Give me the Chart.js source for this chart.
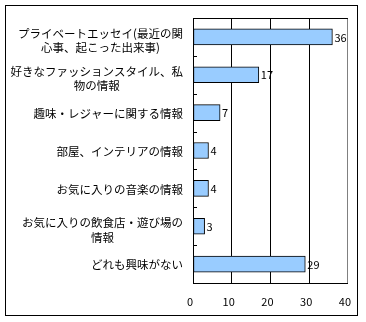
<!DOCTYPE html>
<html>
<head>
<meta charset="utf-8">
<script src="https://cdn.jsdelivr.net/npm/chart.js@4.4.1/dist/chart.umd.min.js"></script>
<style>
  html, body { margin: 0; padding: 0; background: #fff; }
  #wrap { width: 366px; height: 322px; }
</style>
</head>
<body>
<div id="wrap"><canvas id="chart" width="366" height="322"></canvas></div>
<script>
// categories (multi-line labels), values and x ticks
const categories = [
  ["プライベートエッセイ(最近の関", "心事、起こった出来事)"],
  ["好きなファッションスタイル、私", "物の情報"],
  ["趣味・レジャーに関する情報"],
  ["部屋、インテリアの情報"],
  ["お気に入りの音楽の情報"],
  ["お気に入りの飲食店・遊び場の", "情報"],
  ["どれも興味がない"]
];
const values = [36, 17, 7, 4, 4, 3, 29];
const xTicks = [0, 10, 20, 30, 40];

const JP_FONT = '"Noto Sans CJK JP", "Noto Sans", sans-serif';

// draws the frame, inner tick marks, category labels and value labels
const decorations = {
  id: "decorations",
  afterDraw(chart) {
    const ctx = chart.ctx;
    const area = chart.chartArea;
    const yScale = chart.scales.y;
    const meta = chart.getDatasetMeta(0);

    ctx.save();

    // outer frame
    ctx.strokeStyle = "#000";
    ctx.lineWidth = 1;
    ctx.strokeRect(5.5, 5.5, 352, 310);

    // plot top edge
    ctx.beginPath();
    ctx.moveTo(area.left, Math.round(area.top) + 0.5);
    ctx.lineTo(area.right, Math.round(area.top) + 0.5);
    ctx.stroke();

    // small inside ticks between categories
    for (let i = 1; i < categories.length; i++) {
      const y = Math.round((yScale.getPixelForValue(i - 1) + yScale.getPixelForValue(i)) / 2) + 0.5;
      ctx.beginPath();
      ctx.moveTo(area.left, y);
      ctx.lineTo(area.left + 4, y);
      ctx.stroke();
    }

    // category labels: block right-aligned, lines centred within the block
    ctx.fillStyle = "#000";
    ctx.font = "11.5px " + JP_FONT;
    ctx.textAlign = "center";
    ctx.textBaseline = "middle";
    const right = area.left - 10;
    categories.forEach((lines, i) => {
      const cy = yScale.getPixelForValue(i);
      const blockW = Math.max(...lines.map(l => ctx.measureText(l).width));
      const cx = right - blockW / 2;
      if (lines.length === 1) {
        ctx.fillText(lines[0], cx, cy + 1);
      } else {
        lines.forEach((l, k) => ctx.fillText(l, cx, cy - 3.5 + k * 14.5));
      }
    });

    // value labels at bar ends
    ctx.font = "11px " + JP_FONT;
    ctx.textAlign = "left";
    meta.data.forEach((bar, i) => {
      ctx.fillText(String(values[i]), bar.x + 2, bar.y + 0.5);
    });

    ctx.restore();
  }
};

new Chart(document.getElementById("chart"), {
  type: "bar",
  data: {
    labels: categories.map(c => c.join("")),
    datasets: [{
      data: values,
      backgroundColor: "#99CCFF",
      borderColor: "#000",
      borderWidth: 1,
      borderSkipped: false,
      barThickness: 16
    }]
  },
  options: {
    indexAxis: "y",
    responsive: false,
    animation: false,
    layout: { padding: { top: 18, right: 17, bottom: 9, left: 0 } },
    plugins: {
      legend: { display: false },
      tooltip: { enabled: false }
    },
    scales: {
      y: {
        grid: { display: false },
        border: { display: true, color: "#000", width: 1 },
        ticks: { display: false },
        afterFit(scale) { scale.width = 193; }
      },
      x: {
        min: 0,
        max: 40,
        afterBuildTicks(scale) { scale.ticks = xTicks.map(v => ({ value: v })); },
        grid: {
          color: c => (c.tick && c.tick.value === 40 ? "#808080" : "#000"),
          drawTicks: false
        },
        border: { display: true, color: "#000", width: 1 },
        ticks: {
          color: "#000",
          font: { family: JP_FONT, size: 11 },
          padding: 12,
          labelOffset: -3,
          maxRotation: 0
        },
        afterFit(scale) { scale.height = 30; }
      }
    }
  },
  plugins: [decorations]
});
</script>
</body>
</html>
